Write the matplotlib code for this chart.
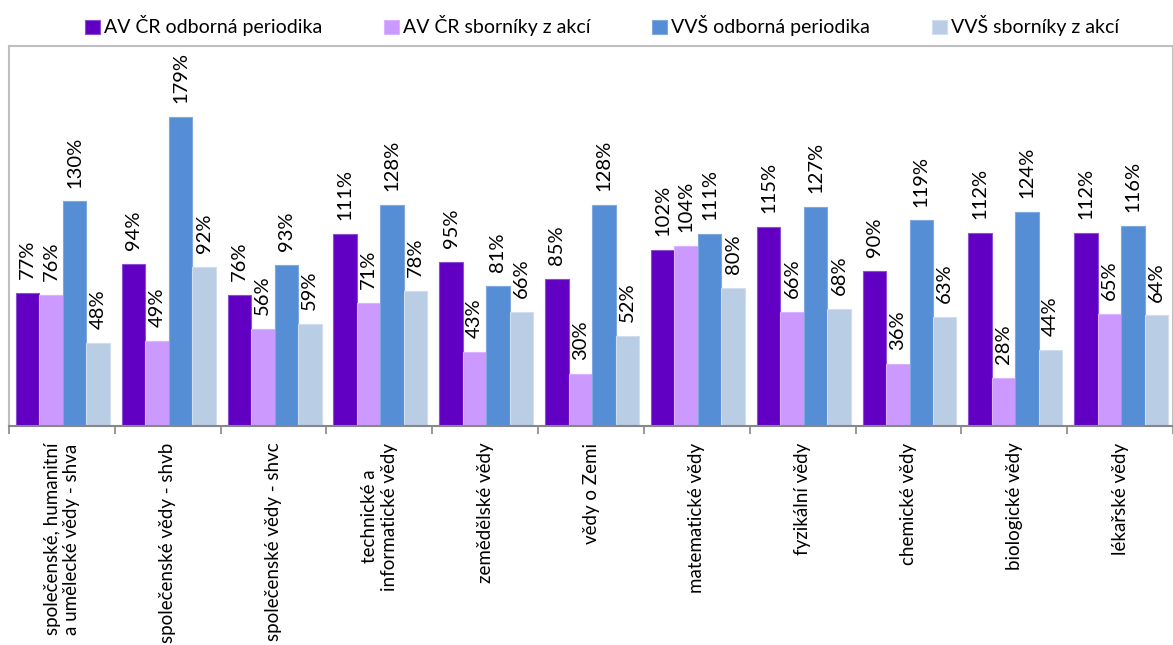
import numpy as np
import matplotlib
matplotlib.use('Agg')
import matplotlib.pyplot as plt

plt.rcParams['font.family'] = ['Lato', 'DejaVu Sans']

categories = ['společenské, humanitní\na umělecké vědy - shva',
              'společenské vědy - shvb',
              'společenské vědy - shvc',
              'technické a\ninformatické vědy',
              'zemědělské vědy',
              'vědy o Zemi',
              'matematické vědy',
              'fyzikální vědy',
              'chemické vědy',
              'biologické vědy',
              'lékařské vědy']

series_names = ['AV ČR odborná periodika', 'AV ČR sborníky z akcí',
                'VVŠ odborná periodika', 'VVŠ sborníky z akcí']

av_periodika = [77, 94, 76, 111, 95, 85, 102, 115, 90, 112, 112]
av_sborniky = [76, 49, 56, 71, 43, 30, 104, 66, 36, 28, 65]
vvs_periodika = [130, 179, 93, 128, 81, 128, 111, 127, 119, 124, 116]
vvs_sborniky = [48, 92, 59, 78, 66, 52, 80, 68, 63, 44, 64]

colors = ['#6100C2', '#CC99FF', '#558ED5', '#B9CDE5']
edges = ['#8A4FD6', '#D9B3FF', '#7FA8E0', '#D0DEEF']

W, H = 1173, 645
fig = plt.figure(figsize=(W / 100, H / 100), dpi=100)
ax = fig.add_axes([9 / W, 1 - 426 / H, 1 - 9 / W, (426 - 46) / H])

x = np.arange(len(categories))
width = 0.222
offsets = [-1.5, -0.5, 0.5, 1.5]
all_series = [av_periodika, av_sborniky, vvs_periodika, vvs_sborniky]

for vals, off, col, ec, name in zip(all_series, offsets, colors, edges, series_names):
    v = np.array(vals) / 100
    bars = ax.bar(x + off * width + 0.01, v, width, color=col, edgecolor=ec,
                  linewidth=0.8, label=name)
    for b, val in zip(bars, vals):
        ax.annotate(f'{val}%', (b.get_x() + b.get_width() / 2, b.get_height()),
                    xytext=(0, 10), textcoords='offset points',
                    rotation=90, ha='center', va='bottom', fontsize=14.5,
                    color='black')

ax.set_ylim(0, 2.2)
ax.set_xlim(-0.5, (W - 9) / 107 - 0.5)
ax.set_yticks([])

ax.set_xticks(np.arange(-0.5, len(categories), 1), minor=False)
ax.set_xticklabels([])
ax.tick_params(axis='x', which='major', length=6, width=1.2, color='#878787', direction='out')
ax.set_xticks(x, minor=True)
ax.set_xticklabels(categories, minor=True, rotation=90, fontsize=13.5,
                   va='top', ha='center', multialignment='center')
ax.tick_params(axis='x', which='minor', length=0, pad=12)

for s in ['left', 'top', 'right']:
    ax.spines[s].set_color('#BFBFBF')
    ax.spines[s].set_linewidth(1.5)
ax.spines['bottom'].set_color('#878787')
ax.spines['bottom'].set_linewidth(1.5)

fig.legend(loc='center', bbox_to_anchor=(602 / W, 1 - 26 / H), ncol=4, frameon=False,
           fontsize=14, handlelength=0.75, handleheight=0.75, handletextpad=0.2,
           columnspacing=3.2)

fig.savefig('out.png', dpi=100)
